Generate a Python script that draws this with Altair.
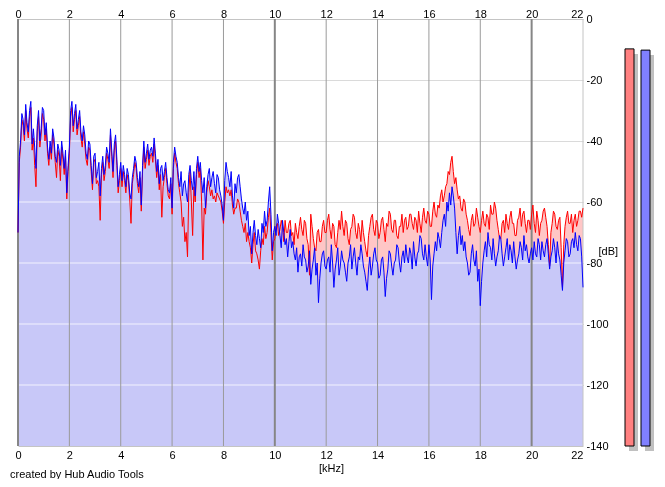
import altair as alt
import pandas as pd

FONT = "Liberation Sans"

# frequency bins (kHz), 0.05 kHz apart
khz = [round(i * 0.05, 2) for i in range(441)]

blue_db = [
    # 0 - 0.95 kHz
    -70, -45, -40, -31, -33, -38, -28, -34, -37, -30, -27, -41, -36, -42, -49, -35, -30, -40, -36, -29,
    -30, -38, -34, -42, -46, -40, -44, -36, -39, -45, -47, -41, -43, -48, -40, -44, -49, -43, -57, -48,
    -42, -30, -27, -35, -31, -28, -36, -33, -30, -37, -40, -35, -38, -44, -46, -40, -41, -48, -54, -45,
    -44, -52, -50, -47, -58, -49, -45, -51, -48, -42, -44, -47, -36, -43, -50, -41, -38, -46, -55, -51,
    -47, -53, -48, -51, -55, -49, -51, -57, -59, -52, -49, -45, -47, -52, -55, -50, -61, -48, -40, -47,
    -44, -41, -46, -43, -42, -45, -39, -44, -50, -46, -54, -49, -48, -53, -50, -47, -52, -56, -57, -52,
    -62, -47, -42, -45, -47, -52, -55, -50, -58, -54, -53, -57, -60, -51, -48, -53, -56, -50, -58, -49,
    -45, -50, -47, -53, -57, -52, -62, -55, -51, -49, -55, -52, -50, -54, -57, -51, -52, -56, -58, -61,
    -66, -53, -47, -50, -52, -55, -50, -58, -62, -54, -57, -52, -51, -55, -59, -62, -64, -60, -66, -63,
    -71, -68, -77, -70, -66, -71, -74, -69, -72, -75, -67, -70, -63, -68, -66, -60, -55, -64, -76, -70,
    # 10 - 10.95 kHz
    -68, -71, -64, -67, -71, -75, -66, -70, -74, -72, -78, -73, -69, -75, -73, -77, -79, -75, -83, -78,
    -77, -81, -74, -78, -79, -83, -81, -76, -87, -82, -79, -75, -84, -80, -93, -85, -80, -77, -76, -81,
    -82, -79, -78, -83, -74, -80, -88, -82, -79, -75, -84, -81, -76, -79, -80, -83, -86, -80, -78, -74,
    -82, -78, -75, -80, -84, -78, -79, -74, -77, -81, -83, -86, -89, -82, -78, -84, -81, -77, -75, -79,
    -80, -85, -84, -79, -78, -83, -91, -85, -82, -76, -77, -81, -84, -80, -79, -74, -75, -80, -83, -78,
    -76, -80, -74, -78, -80, -75, -77, -82, -73, -78, -81, -77, -76, -71, -72, -77, -79, -74, -78, -81,
    -74, -79, -92, -81, -77, -73, -76, -70, -72, -75, -70, -66, -64, -68, -60, -63, -57, -61, -55, -58,
    -62, -70, -77, -71, -68, -74, -71, -76, -73, -78, -80, -84, -83, -77, -74, -79, -81, -76, -86, -82,
    -94, -86, -80, -76, -73, -78, -70, -74, -75, -79, -72, -77, -81, -78, -76, -71, -72, -77, -81, -78,
    -75, -72, -79, -74, -76, -80, -73, -78, -82, -79, -77, -73, -75, -79, -71, -76, -74, -78, -80, -77,
    -75, -79, -73, -77, -78, -72, -74, -79, -73, -76, -78, -74, -72, -77, -82, -78, -76, -72, -75, -80,
    -73, -77, -79, -84, -89, -80, -76, -72, -73, -78, -77, -73, -72, -75, -70, -74, -76, -71, -72, -78,
    # 22 kHz
    -88,
]

red_db = [
    -70, -47, -42, -33, -35, -40, -30, -36, -39, -32, -29, -43, -39, -48, -55, -37, -32, -42, -38, -31,
    -33, -40, -36, -44, -48, -42, -46, -38, -41, -47, -52, -43, -45, -53, -42, -46, -51, -45, -59, -50,
    -44, -32, -29, -37, -33, -30, -38, -35, -32, -39, -42, -37, -41, -46, -48, -42, -43, -50, -56, -47,
    -46, -54, -53, -55, -66, -51, -47, -53, -50, -44, -46, -49, -38, -45, -52, -43, -40, -48, -57, -53,
    -49, -55, -50, -53, -57, -51, -53, -59, -67, -54, -51, -47, -49, -54, -57, -52, -63, -50, -42, -49,
    -46, -43, -48, -45, -44, -47, -41, -46, -52, -48, -56, -51, -65, -55, -52, -49, -54, -58, -59, -54,
    -64, -49, -44, -47, -49, -54, -57, -60, -68, -65, -73, -70, -78, -57, -50, -60, -71, -55, -60, -51,
    -47, -52, -49, -60, -79, -62, -64, -57, -53, -55, -58, -56, -59, -58, -60, -57, -58, -59, -60, -63,
    -67, -60, -55, -57, -56, -58, -56, -61, -64, -62, -62, -59, -60, -63, -66, -68, -70, -67, -73, -70,
    -73, -75, -80, -74, -70, -76, -77, -79, -82, -76, -72, -74, -68, -72, -70, -65, -62, -70, -79, -73,
    -72, -68, -67, -71, -69, -66, -68, -73, -66, -70, -70, -67, -66, -71, -70, -74, -67, -70, -72, -68,
    -65, -69, -71, -66, -67, -72, -74, -84, -64, -68, -72, -75, -76, -70, -69, -73, -73, -68, -66, -70,
    -70, -66, -64, -69, -72, -67, -68, -74, -75, -70, -66, -69, -63, -68, -71, -66, -67, -72, -74, -69,
    -68, -64, -65, -70, -72, -67, -69, -73, -66, -70, -73, -76, -78, -71, -68, -65, -64, -69, -71, -66,
    -67, -72, -70, -66, -65, -69, -73, -67, -68, -63, -64, -69, -70, -66, -66, -71, -72, -68, -68, -64,
    -70, -66, -65, -69, -68, -64, -64, -67, -69, -65, -66, -70, -63, -67, -70, -65, -62, -66, -67, -63,
    -64, -68, -68, -63, -60, -64, -65, -61, -62, -58, -56, -60, -58, -55, -54, -50, -51, -47, -45, -50,
    -54, -52, -56, -59, -58, -62, -63, -59, -60, -64, -66, -69, -71, -66, -64, -68, -67, -62, -65, -68,
    -70, -66, -63, -67, -68, -64, -65, -69, -61, -64, -64, -60, -62, -66, -69, -72, -72, -67, -66, -70,
    -64, -67, -69, -65, -63, -67, -67, -71, -71, -66, -65, -62, -68, -64, -63, -67, -70, -66, -66, -69,
    -64, -61, -67, -70, -63, -66, -71, -67, -66, -63, -62, -65, -68, -74, -81, -70, -67, -63, -64, -68,
    -69, -66, -65, -75, -88, -74, -68, -65, -63, -67, -67, -64, -70, -66, -64, -68, -66, -63, -63, -65,
    -62,
]

grid_khz = [0, 2, 4, 6, 8, 10, 12, 14, 16, 18, 20, 22]
db_ticks = [0, -20, -40, -60, -80, -100, -120, -140]
inner_db = [-20, -40, -60, -80, -100, -120]
meter_channel = ["L", "R"]
meter_db = [-9.8, -10.2]
credit = "created by Hub Audio Tools"

blue_df = pd.DataFrame({"khz": khz, "db": blue_db})
red_df = pd.DataFrame({"khz": khz, "db": red_db})
grid_df = pd.DataFrame({"k": grid_khz})
hgrid_df = pd.DataFrame({"d": inner_db})
meter_df = pd.DataFrame({"ch": meter_channel, "db": meter_db})
credit_df = pd.DataFrame({"t": [credit]})

xscale = alt.Scale(domain=[0, 22], nice=False, zero=False)
yscale = alt.Scale(domain=[-140, 0], nice=False, zero=False)

label_common = dict(labelFont=FONT, labelFontSize=11, labelColor="black",
                    domain=False, ticks=False, tickSize=0, labelOverlap=False)

top_axis = alt.Axis(orient="top", values=grid_khz, grid=False, labelPadding=0,
                    labelAlign=alt.expr("datum.value == 22 ? 'right' : 'center'"),
                    labelFlush=False, title=None, **label_common)
bottom_axis = alt.Axis(orient="bottom", values=grid_khz, grid=False, labelPadding=3,
                       labelAlign=alt.expr("datum.value == 22 ? 'right' : 'center'"),
                       labelFlush=False, title="[kHz]", titleX=313, titleY=22,
                       titleBaseline="middle", titleAlign="center",
                       titleFont=FONT, titleFontSize=11, titleFontWeight="normal",
                       titleColor="black", **label_common)
right_axis = alt.Axis(orient="right", values=db_ticks, grid=True, gridColor="#C4C4C4",
                      gridWidth=1, labelPadding=3, labelAlign="left", labelBaseline="middle",
                      labelFlush=False, labelExpr="'' + datum.value",
                      title="[dB]", titleAngle=0, titleX=15, titleY=232,
                      titleAlign="left", titleBaseline="middle", titleFont=FONT,
                      titleFontSize=11, titleFontWeight="normal", titleColor="black",
                      **label_common)

red_area = alt.Chart(red_df).mark_area(color="#FFC6C6", interpolate="linear").encode(
    x=alt.X("khz:Q", scale=xscale, axis=top_axis),
    y=alt.Y("db:Q", scale=yscale, axis=right_axis),
    y2=alt.Y2(datum=-140),
)
blue_area = alt.Chart(blue_df).mark_area(color="#C8C8F8", interpolate="linear").encode(
    x=alt.X("khz:Q", scale=xscale, axis=bottom_axis),
    y=alt.Y("db:Q", scale=yscale, axis=None),
    y2=alt.Y2(datum=-140),
)
hgrid = alt.Chart(hgrid_df).mark_rule(color="#C0C0C0", strokeWidth=1, blend="screen").encode(
    y=alt.Y("d:Q", scale=yscale, axis=None),
)
vgrid_thin = alt.Chart(grid_df).transform_filter(
    "datum.k % 10 != 0 && datum.k != 22"
).mark_rule(color="#9A9A9A", strokeWidth=1).encode(
    x=alt.X("k:Q", scale=xscale, axis=None),
)
vgrid_thick = alt.Chart(grid_df).transform_filter("datum.k % 10 == 0").mark_rule(
    color="#868686", strokeWidth=2
).encode(x=alt.X("k:Q", scale=xscale, axis=None))
vgrid_edge = alt.Chart(grid_df).transform_filter("datum.k == 22").mark_rule(
    color="#C4C4C4", strokeWidth=1
).encode(x=alt.X("k:Q", scale=xscale, axis=None))

red_line = alt.Chart(red_df).mark_line(color="#FF0000", strokeWidth=1, interpolate="linear").encode(
    x=alt.X("khz:Q", scale=xscale, axis=None),
    y=alt.Y("db:Q", scale=yscale, axis=None),
)
blue_line = alt.Chart(blue_df).mark_line(color="#0000FF", strokeWidth=1, interpolate="linear").encode(
    x=alt.X("khz:Q", scale=xscale, axis=None),
    y=alt.Y("db:Q", scale=yscale, axis=None),
)


def meter(channel, x0, fill):
    base = alt.Chart(meter_df).transform_filter(f"datum.ch == '{channel}'")
    shadow = base.mark_rect(color="#C0C0C0", yOffset=5).encode(
        x=alt.value(x0 + 4), x2=alt.value(x0 + 13),
        y=alt.Y("db:Q", scale=yscale, axis=None), y2=alt.value(432),
    )
    bar = base.mark_rect(fill=fill, stroke="black", strokeWidth=1).encode(
        x=alt.value(x0), x2=alt.value(x0 + 9),
        y=alt.Y("db:Q", scale=yscale, axis=None), y2=alt.value(427),
    )
    return shadow + bar


credit_text = alt.Chart(credit_df).mark_text(
    align="left", baseline="middle", font=FONT, fontSize=11, color="black"
).encode(text="t:N", x=alt.value(-8), y=alt.value(456))

chart = alt.layer(
    red_area, blue_area, hgrid, vgrid_thin, vgrid_thick, vgrid_edge,
    red_line, blue_line,
    meter("L", 607, "#FF8080"), meter("R", 623, "#8080FF"),
    credit_text,
).resolve_axis(x="independent", y="independent").properties(
    width=565, height=427,
    autosize=alt.AutoSizeParams(type="none"),
    padding={"left": 10, "top": 11, "right": 72, "bottom": 33},
    background="white",
).configure_view(strokeWidth=0)

chart.save("out.html", embed_options={"renderer": "svg", "actions": False})
